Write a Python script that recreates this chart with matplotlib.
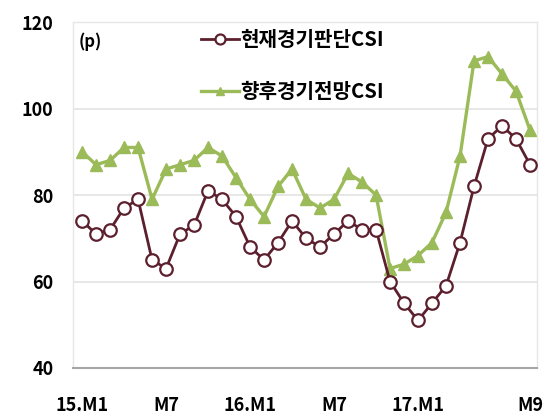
import matplotlib
matplotlib.use("Agg")
import matplotlib.pyplot as plt
import numpy as np

plt.rcParams['font.family'] = ['Noto Sans CJK KR', 'DejaVu Sans']

months = list(range(33))
current_csi = [74, 71, 72, 77, 79, 65, 63, 71, 73, 81, 79, 75,
               68, 65, 69, 74, 70, 68, 71, 74, 72, 72,
               60, 55, 51, 55, 59, 69, 82, 93, 96, 93, 87]
outlook_csi = [90, 87, 88, 91, 91, 79, 86, 87, 88, 91, 89, 84,
               79, 75, 82, 86, 79, 77, 79, 85, 83, 80,
               63, 64, 66, 69, 76, 89, 111, 112, 108, 104, 95]
tick_pos = [0, 6, 12, 18, 24, 32]
tick_labels = ['15.M1', 'M7', '16.M1', 'M7', '17.M1', 'M9']
label_current = '현재경기판단CSI'
label_outlook = '향후경기전망CSI'

fig = plt.figure(figsize=(5.43, 4.16), dpi=100)
ax = fig.add_axes([0.1344, 0.1154, 0.8546, 0.8316])

green = '#9bbb59'
maroon = '#5c1f2e'

ax.plot(months, outlook_csi, color=green, lw=2.4, marker='^', ms=8,
        mfc=green, mec=green, label=label_outlook, zorder=3)
ax.plot(months, current_csi, color=maroon, lw=2.0, marker='o', ms=9,
        mfc='white', mec=maroon, mew=1.6, label=label_current, zorder=4)

ax.set_xlim(-0.65, 32.5)
ax.set_ylim(40, 120)
ax.set_yticks([40, 60, 80, 100, 120])
ax.set_xticks(tick_pos)
ax.set_xticklabels(tick_labels)
ax.yaxis.grid(True, color='#e3e3e3', lw=1.2)
ax.set_axisbelow(True)
ax.tick_params(axis='both', length=0, labelsize=13)
ax.tick_params(axis='y', pad=14)
ax.tick_params(axis='x', pad=20)
for lab in ax.get_xticklabels() + ax.get_yticklabels():
    lab.set_fontweight('bold')
for s in ['left', 'right', 'top']:
    ax.spines[s].set_color('#e6e6e6')
    ax.spines[s].set_linewidth(1.0)
ax.spines['bottom'].set_color('#a6a6a6')
ax.spines['bottom'].set_linewidth(1.5)

ax.text(0.012, 0.97, '(p)', transform=ax.transAxes, fontsize=12,
        fontweight='bold', va='top', ha='left')

leg = ax.legend(handles=[ax.lines[1], ax.lines[0]], loc='upper left',
                bbox_to_anchor=(0.276, 0.98), frameon=False, fontsize=14.5,
                handlelength=1.9, handletextpad=0.05, labelspacing=1.55,
                borderaxespad=0, borderpad=0, markerscale=0.8)
for t in leg.get_texts():
    t.set_fontweight('bold')

fig.savefig('out.png', dpi=100)
